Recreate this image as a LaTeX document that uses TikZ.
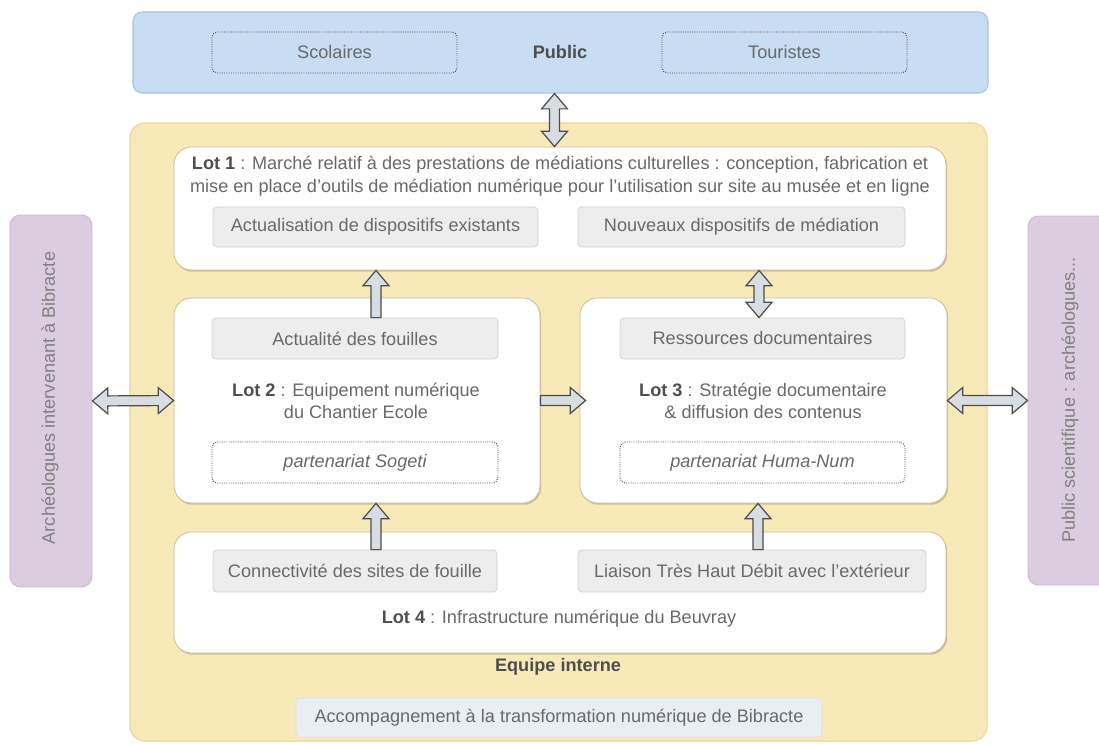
\documentclass[tikz,border=0pt]{standalone}
\usepackage{fontspec}
\setmainfont{Liberation Sans}
\usetikzlibrary{calc,shadows}
\definecolor{txt}{HTML}{696969}
\definecolor{txtb}{HTML}{4E4E4E}
\definecolor{pubfill}{HTML}{C8DCF2}
\definecolor{pubdraw}{HTML}{A9C3E2}
\definecolor{yelfill}{HTML}{F8E9B8}
\definecolor{yeldraw}{HTML}{EDD796}
\definecolor{wdraw}{HTML}{C9BD98}
\definecolor{gfill}{HTML}{EDEDED}
\definecolor{gdraw}{HTML}{D2D2D2}
\definecolor{accfill}{HTML}{E9EEF2}
\definecolor{purfill}{HTML}{DCCCE0}
\definecolor{purdraw}{HTML}{CDB8D3}
\definecolor{arrfill}{HTML}{D8DDE2}
\definecolor{arrdraw}{HTML}{4C4C4C}
\newcommand\sarrow[2]{%
  \coordinate (ahA) at ($(#2)!11.5pt!(#1)$);
  \draw[blockarrow] ($(#1)!3.75pt!90:(#2)$) -- ($(ahA)!3.75pt!90:(#2)$) -- ($(ahA)!9.75pt!90:(#2)$) -- (#2)
    -- ($(ahA)!9.75pt!-90:(#2)$) -- ($(ahA)!3.75pt!-90:(#2)$) -- ($(#1)!3.75pt!-90:(#2)$) -- cycle;}
\newcommand\darrow[2]{%
  \coordinate (ahA) at ($(#2)!11.5pt!(#1)$);
  \coordinate (ahB) at ($(#1)!11.5pt!(#2)$);
  \draw[blockarrow] (#1) -- ($(ahB)!9.75pt!-90:(#2)$) -- ($(ahB)!3.75pt!-90:(#2)$) -- ($(ahA)!3.75pt!90:(#1)$)
    -- ($(ahA)!9.75pt!90:(#1)$) -- (#2) -- ($(ahA)!9.75pt!-90:(#1)$) -- ($(ahA)!3.75pt!-90:(#1)$)
    -- ($(ahB)!3.75pt!90:(#2)$) -- ($(ahB)!9.75pt!90:(#2)$) -- cycle;}
\begin{document}
\begin{tikzpicture}[x=0.75pt,y=-0.75pt,
  font=\fontsize{13.6}{17}\selectfont, text=txt,
  blockarrow/.style={fill=arrfill, draw=arrdraw, line width=0.9pt, line join=miter},
  pubbox/.style={draw=pubdraw, fill=pubfill, line width=0.8pt, rounded corners=7pt, inner sep=0pt},
  yelbox/.style={draw=yeldraw, fill=yelfill, line width=0.8pt, rounded corners=11pt, inner sep=0pt},
  whitebox/.style={draw=wdraw, fill=white, line width=0.6pt, rounded corners=13pt, inner sep=0pt, align=center,
    drop shadow={shadow xshift=0.9pt, shadow yshift=-1.3pt, fill=wdraw!70!black, opacity=0.4}},
  graybox/.style={draw=gdraw, fill=gfill, line width=0.6pt, rounded corners=3pt, inner sep=0pt},
  dashbox/.style={draw=txtb, densely dotted, line width=0.7pt, rounded corners=4pt, inner sep=0pt},
  purbox/.style={draw=purdraw, fill=purfill, line width=0.7pt, rounded corners=8pt, inner sep=0pt},
  accbox/.style={draw=gdraw!70, fill=accfill, line width=0.5pt, rounded corners=3pt, inner sep=0pt},
  label/.style={inner sep=0pt, align=center},
  bold/.style={font=\fontsize{13.6}{17}\selectfont\bfseries, text=txtb}]
\useasboundingbox (0,0) rectangle (1099,743);
\fill[white] (0,0) rectangle (1099,743);

% side boxes
\node[purbox, minimum width=61.5pt, minimum height=279pt] (leftbox) at (51,401) {};
\node[label, rotate=90, text=txt!85] (lefttxt) at (50,398) {Archéologues intervenant à Bibracte};
\node[purbox, minimum width=64.5pt, minimum height=276.75pt] (rightbox) at (1071,400.5) {};
\node[label, rotate=90, text=txt!85] (righttxt) at (1070,400) {Public scientifique : archéologues...};

% public
\node[pubbox, minimum width=641.25pt, minimum height=60.75pt] (public) at (560.5,52.5) {};
\node[label, bold] (publictxt) at (560,52) {Public};
\node[dashbox, minimum width=183.75pt, minimum height=30.75pt] (scolaires) at (334.5,52.5) {Scolaires};
\node[dashbox, minimum width=183.75pt, minimum height=30.75pt] (touristes) at (784.5,52.5) {Touristes};

% equipe interne
\node[yelbox, minimum width=642.75pt, minimum height=463.5pt] (equipe) at (558.5,432) {};
\node[label, bold] (equipetxt) at (558,667) {Equipe interne};
\node[accbox, minimum width=394.5pt, minimum height=29.25pt] (accomp) at (559,717.5) {Accompagnement à la transformation numérique de Bibracte};

% lot 1
\node[whitebox, minimum width=579pt, minimum height=92.25pt] (lot1) at (560,208.5) {};
\node[label] (lot1txt) at (560,176.5) {\textbf{\color{txtb}Lot 1} : Marché relatif à des prestations de médiations culturelles : conception, fabrication et\\[0.5pt] mise en place d'outils de médiation numérique pour l'utilisation sur site au musée et en ligne};
\node[graybox, minimum width=243.75pt, minimum height=30pt] (actualisation) at (375.5,227) {Actualisation de dispositifs existants};
\node[graybox, minimum width=245.25pt, minimum height=30pt] (nouveaux) at (741.5,227) {Nouveaux dispositifs de médiation};

% lot 2
\node[whitebox, minimum width=274.5pt, minimum height=153.75pt] (lot2) at (357,400.5) {};
\node[label] (lot2txt) at (356,401) {\textbf{\color{txtb}Lot 2} : Equipement numérique\\du Chantier Ecole};
\node[graybox, minimum width=214.5pt, minimum height=30.75pt] (actualite) at (355,338.5) {Actualité des fouilles};
\node[dashbox, minimum width=214.5pt, minimum height=30.75pt] (sogeti) at (355,462.5) {\itshape partenariat Sogeti};

% lot 3
\node[whitebox, minimum width=275.25pt, minimum height=153.75pt] (lot3) at (763.5,400.5) {};
\node[label] (lot3txt) at (763,401) {\textbf{\color{txtb}Lot 3} : Stratégie documentaire\\\& diffusion des contenus};
\node[graybox, minimum width=213.75pt, minimum height=30.75pt] (ressources) at (762.5,338.5) {Ressources documentaires};
\node[dashbox, minimum width=213.75pt, minimum height=30.75pt] (humanum) at (762.5,462.5) {\itshape partenariat Huma-Num};

% lot 4
\node[whitebox, minimum width=579pt, minimum height=90.75pt] (lot4) at (560,592.5) {};
\node[label] (lot4txt) at (559,619) {\textbf{\color{txtb}Lot 4} : Infrastructure numérique du Beuvray};
\node[graybox, minimum width=213pt, minimum height=31.5pt] (connectivite) at (355,571) {Connectivité des sites de fouille};
\node[graybox, minimum width=261pt, minimum height=31.5pt] (liaison) at (752,571) {Liaison Très Haut Débit avec l'extérieur};

% arrow end points
\coordinate (pA) at ($(public.south)+(-6,0)$);
\coordinate (pB) at (lot1.north -| pA);
\coordinate (l2b) at ($(actualite.north)+(21,0)$);
\coordinate (l2t) at (lot1.south -| l2b);
\coordinate (l3t) at ($(lot1.south)+(199,0)$);
\coordinate (l3b) at (ressources.north -| l3t);
\coordinate (l23t) at ($(lot3.west)+(6,0)$);
\coordinate (c4b) at ($(connectivite.north)+(21,0)$);
\coordinate (c4t) at (lot2.south -| c4b);
\coordinate (l4b) at ($(liaison.north)+(6,0)$);
\coordinate (l4t) at (lot3.south -| l4b);

% arrows
\darrow{pA}{pB}
\sarrow{l2b}{l2t}
\darrow{l3t}{l3b}
\sarrow{lot2.east}{l23t}
\darrow{leftbox.east}{lot2.west}
\darrow{lot3.east}{rightbox.west}
\sarrow{c4b}{c4t}
\sarrow{l4b}{l4t}
\end{tikzpicture}
\end{document}
